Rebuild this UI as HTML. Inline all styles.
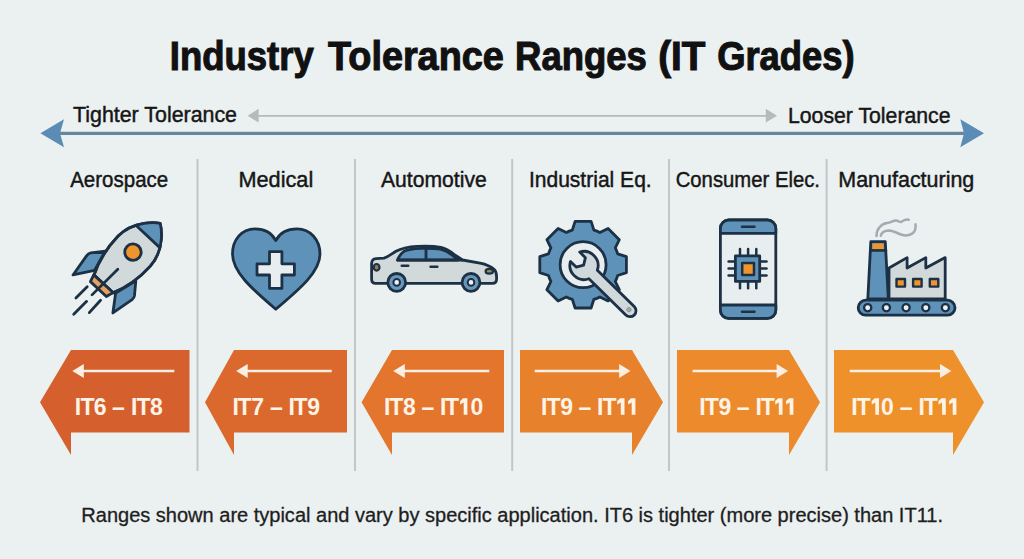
<!DOCTYPE html>
<html><head><meta charset="utf-8">
<style>
html,body{margin:0;padding:0;background:#ebf0f1;}
body{width:1024px;height:559px;overflow:hidden;}
svg{display:block;}
text{font-family:"Liberation Sans",sans-serif;}
</style></head>
<body>
<svg width="1024" height="559" viewBox="0 0 1024 559">
<rect width="1024" height="559" fill="#ebf0f1"/>

<!-- Title -->
<g font-size="40" font-weight="bold" fill="#111" stroke="#111" stroke-width="1.1">
<text x="169.8" y="70" textLength="143.9" lengthAdjust="spacingAndGlyphs">Industry</text>
<text x="328.0" y="70" textLength="175.8" lengthAdjust="spacingAndGlyphs">Tolerance</text>
<text x="515.1" y="70" textLength="131.8" lengthAdjust="spacingAndGlyphs">Ranges</text>
<text x="658.2" y="70" textLength="47.2" lengthAdjust="spacingAndGlyphs">(IT</text>
<text x="717.2" y="70" textLength="137.4" lengthAdjust="spacingAndGlyphs">Grades)</text>
</g>

<!-- Top arrows -->
<g fill="#161616" stroke="#161616" stroke-width="0.45" font-size="22">
<text x="73" y="122" textLength="164" lengthAdjust="spacingAndGlyphs">Tighter Tolerance</text>
<text x="788" y="122.5" textLength="162.5" lengthAdjust="spacingAndGlyphs">Looser Tolerance</text>
</g>
<line x1="257" y1="115.8" x2="767" y2="115.8" stroke="#b5babd" stroke-width="1.8"/>
<polygon points="247.6,115.8 258.6,108.8 258.6,122.6" fill="#b5babd"/>
<polygon points="777,115.8 765.8,108.8 765.8,122.6" fill="#b5babd"/>
<line x1="60" y1="133.4" x2="964" y2="133.4" stroke="#64879e" stroke-width="3.3"/>
<polygon points="40.4,133.2 64,119.2 60,133.2 64,147.3" fill="#5b8cb6"/>
<polygon points="984,133.2 960.3,119.2 964,133.2 960.3,147.3" fill="#5b8cb6"/>

<!-- dividers -->
<g stroke="#c2c6c8" stroke-width="2">
<line x1="197.5" y1="159" x2="197.5" y2="471"/>
<line x1="355" y1="159" x2="355" y2="471"/>
<line x1="512.2" y1="159" x2="512.2" y2="471"/>
<line x1="669" y1="159" x2="669" y2="471"/>
<line x1="826.6" y1="159" x2="826.6" y2="471"/>
</g>

<!-- labels -->
<g font-size="22" fill="#161616" stroke="#161616" stroke-width="0.45">
<text x="70.2" y="186.7" textLength="98" lengthAdjust="spacingAndGlyphs">Aerospace</text>
<text x="238.5" y="186.7" textLength="74.7" lengthAdjust="spacingAndGlyphs">Medical</text>
<text x="381" y="186.7" textLength="105.7" lengthAdjust="spacingAndGlyphs">Automotive</text>
<text x="528.9" y="186.7" textLength="122.8" lengthAdjust="spacingAndGlyphs">Industrial Eq.</text>
<text x="675.7" y="186.7" textLength="144.3" lengthAdjust="spacingAndGlyphs">Consumer Elec.</text>
<text x="838.3" y="186.7" textLength="136" lengthAdjust="spacingAndGlyphs">Manufacturing</text>
</g>

<!-- ROCKET -->
<defs><clipPath id="rb"><path d="M0,-43 C2.5,-41.5 21.5,-28 22,-5 C22.3,12 18.5,28 13,40 L-13,40 C-18.5,28 -22.3,12 -22,-5 C-21.5,-28 -2.5,-41.5 0,-43 Z"/></clipPath></defs>
<g transform="translate(130.8,254.75) rotate(43)" stroke="#1c3145" stroke-width="2.8" stroke-linejoin="round" stroke-linecap="round">
  <path d="M-21,14.8 L-30.5,26 Q-32,28 -31.6,31 L-28.5,54.2 L-15.9,36.2 Z" fill="#5f92b8"/>
  <path d="M21.4,15.6 L30.6,27.4 Q32,29.4 31.6,32 L26.6,54.8 L15,38.3 Z" fill="#5f92b8"/>
  <path d="M0,-43 C2.5,-41.5 21.5,-28 22,-5 C22.3,12 18.5,28 13,40 L-13,40 C-18.5,28 -22.3,12 -22,-5 C-21.5,-28 -2.5,-41.5 0,-43 Z" fill="#d1d9db"/>
  <rect x="-25" y="-46" width="50" height="21" fill="#5f92b8" stroke="none" clip-path="url(#rb)"/>
  <path d="M0,-43 C2.5,-41.5 21.5,-28 22,-5 C22.3,12 18.5,28 13,40 L-13,40 C-18.5,28 -22.3,12 -22,-5 C-21.5,-28 -2.5,-41.5 0,-43 Z" fill="none"/>
  <line x1="-16" y1="-25" x2="16" y2="-25" clip-path="url(#rb)"/>
  <circle cx="-0.2" cy="-3.4" r="8.2" fill="#f0942c"/>
  <path d="M-13.4,40 L12.8,39.8 L10.6,47.2 L-11.2,47.2 Z" fill="#e6a05e"/>
  <line x1="0.3" y1="19.4" x2="-1" y2="55.8"/>
  <line x1="-10" y1="53.2" x2="-10.6" y2="69.1"/>
  <line x1="-0.5" y1="64.2" x2="-1.2" y2="82.4"/>
  <line x1="8.9" y1="53.9" x2="9.1" y2="70.6"/>
</g>

<!-- HEART -->
<g stroke="#1c3145" stroke-width="2.8" stroke-linejoin="round">
  <path d="M275.8,240.6 C271,231.5 263.5,228.9 255,228.9 C241.5,228.9 232.5,240 232.5,254 C232.5,272 252,289 275.8,309.2 C299.6,289 320,272 320,254 C320,240 310.5,228.9 297,228.9 C288.5,228.9 280.6,231.5 275.8,240.6 Z" fill="#5f92b8"/>
  <path d="M269.5,251.6 H281.9 V263.8 H294.4 V275 H281.9 V288.4 H269.5 V275 H257 V263.8 H269.5 Z" fill="#e8eef0"/>
</g>

<!-- CAR -->
<g stroke="#1c3145" stroke-width="2.8" stroke-linejoin="round" stroke-linecap="round">
  <path d="M371.6,263.5 Q371.8,258.9 376,258.6 L384,258.1 C389,256.5 392,253.5 396,251.2 C401,248.4 408,246.8 417,246.3 C426,245.9 435,246.2 441,247.3 C446,248.3 450,251 454,254.3 L462.5,260 L480,263.2 C486,264.3 491,266.5 494.5,269.8 C496,271.5 496.6,274 496.6,277 L496.5,280 Q496.3,283.4 492.5,283.4 L375.5,283.4 Q371.6,283.4 371.6,279 Z" fill="#d1d9db"/>
  <path d="M397.5,260 C399,256.5 401,253.3 404,251.3 C408,249.3 414,248.6 421,248.3 C429,248.1 436,248.4 440.5,249.2 C445,250.2 449,252.5 452.5,255.3 L458,260 Z" fill="#5f92b8"/>
  <line x1="397.5" y1="260.2" x2="462.5" y2="260.2"/>
  <line x1="426" y1="247.5" x2="426" y2="259.5"/>
  <line x1="401.8" y1="265.7" x2="408.2" y2="265.7" stroke-width="2.6"/>
  <line x1="430.6" y1="266.8" x2="437.3" y2="266.8" stroke-width="2.6"/>
  <ellipse cx="376.6" cy="267.3" rx="2.9" ry="3.3" fill="#9b7c4e" stroke-width="2.2"/>
  <ellipse cx="489.3" cy="271.2" rx="3.7" ry="2.4" fill="#a58a55" stroke-width="2.2"/>
  <circle cx="396.7" cy="282.4" r="8.9" fill="#6a98bd"/>
  <circle cx="396.7" cy="282.4" r="3.3" fill="#eef1f4" stroke-width="2"/>
  <circle cx="471" cy="282.4" r="8.9" fill="#6a98bd"/>
  <circle cx="471" cy="282.4" r="3.3" fill="#eef1f4" stroke-width="2"/>
</g>

<!-- GEAR + WRENCH -->
<g stroke="#1c3145" stroke-width="2.8" stroke-linejoin="round">
  <path d="M572.3 230.1 L575.1 221.4 L591.1 221.4 L593.9 230.1 A36.3 36.3 0 0 1 599.9 232.5 L599.9 232.5 L608.1 228.5 L619.3 239.7 L615.3 247.9 A36.3 36.3 0 0 1 617.7 253.9 L617.7 253.9 L626.4 256.7 L626.4 272.7 L617.7 275.5 A36.3 36.3 0 0 1 615.3 281.5 L615.3 281.5 L619.3 289.7 L608.1 300.9 L599.9 296.9 A36.3 36.3 0 0 1 593.9 299.3 L593.9 299.3 L591.1 308.0 L575.1 308.0 L572.3 299.3 A36.3 36.3 0 0 1 566.3 296.9 L566.3 296.9 L558.1 300.9 L546.9 289.7 L550.9 281.5 A36.3 36.3 0 0 1 548.5 275.5 L548.5 275.5 L539.8 272.7 L539.8 256.7 L548.5 253.9 A36.3 36.3 0 0 1 550.9 247.9 L550.9 247.9 L546.9 239.7 L558.1 228.5 L566.3 232.5 A36.3 36.3 0 0 1 572.3 230.1 Z" fill="#5f92b8"/>
  <circle cx="583.1" cy="264.7" r="23" fill="#e8eef0"/>
  <g transform="translate(584,265.5) rotate(44.5)">
    <path d="M-12.5,-6.6 L-4.5,-6.6 L-0.5,0 L-4.5,6.6 L-12.5,6.6 A14.2 14.2 0 0 0 12.8,6 L64.5,6 A6 6 0 0 0 64.5,-6 L12.8,-6 A14.2 14.2 0 0 0 -12.5,-6.6 Z" fill="#d1d8db"/>
    <circle cx="63" cy="0" r="2.2" fill="#a0a8af" stroke="#8b939a" stroke-width="0.9"/>
  </g>
</g>

<!-- PHONE -->
<g stroke="#1c3145" stroke-width="2.8" stroke-linejoin="round" stroke-linecap="round">
  <rect x="720.4" y="220" width="55.4" height="98.4" rx="8.5" fill="#e8eef0"/>
  <path d="M720.4,233.3 V228.5 A8.5 8.5 0 0 1 728.9,220 H767.3 A8.5 8.5 0 0 1 775.8,228.5 V233.3 Z" fill="#5f92b8"/>
  <path d="M720.4,305 V309.9 A8.5 8.5 0 0 0 728.9,318.4 H767.3 A8.5 8.5 0 0 0 775.8,309.9 V305 Z" fill="#5f92b8"/>
  <line x1="742" y1="226.7" x2="754.5" y2="226.7" stroke-width="2.5"/>
  <line x1="742" y1="311.7" x2="754.5" y2="311.7" stroke-width="2.5"/>
  <g stroke-width="2.5">
  <line x1="740" y1="249" x2="740" y2="255"/><line x1="748.1" y1="249" x2="748.1" y2="255"/><line x1="756.3" y1="249" x2="756.3" y2="255"/>
  <line x1="740" y1="282" x2="740" y2="288.3"/><line x1="748.1" y1="282" x2="748.1" y2="288.3"/><line x1="756.3" y1="282" x2="756.3" y2="288.3"/>
  <line x1="728.6" y1="261.6" x2="734.5" y2="261.6"/><line x1="728.6" y1="268.6" x2="734.5" y2="268.6"/><line x1="728.6" y1="275.6" x2="734.5" y2="275.6"/>
  <line x1="760.6" y1="261.6" x2="766.5" y2="261.6"/><line x1="760.6" y1="268.6" x2="766.5" y2="268.6"/><line x1="760.6" y1="275.6" x2="766.5" y2="275.6"/>
  </g>
  <rect x="735.4" y="255.9" width="24.3" height="25.5" fill="#5f92b8"/>
  <rect x="742.2" y="263" width="11.8" height="12" fill="#f0942c" stroke-width="2.5"/>
</g>

<!-- FACTORY -->
<g stroke="#1c3145" stroke-width="2.8" stroke-linejoin="round" stroke-linecap="round">
  <path d="M876.5,236 C876.5,229 881,224 887,223 C891,222.5 893,220.5 896,220.5 C898.5,220.5 899.5,222.5 901,222 C903,221 905,219 908.7,219.7" fill="none" stroke="#a3abb1" stroke-width="2.5"/>
  <path d="M880.8,235.8 C881.5,232 885,230.5 889,230.4 C893,230.5 897,233 901,234.5 C905,235.8 910,235.5 913,233 C915.5,230.5 915.8,227 915.5,224.3" fill="none" stroke="#a3abb1" stroke-width="2.5"/>
  <path d="M889,268 L907.1,257.6 L907.1,268 L925.8,257.6 L925.8,268 L945.2,257.6 L945.2,299 L889,299 Z" fill="#d1d9db"/>
  <path d="M870.8,241.7 L885.3,241.7 L888.3,299 L867.8,299 Z" fill="#5f92b8"/>
  <line x1="871.2" y1="250.3" x2="885.7" y2="250.3"/>
  <rect x="872.6" y="243.6" width="11" height="5.5" fill="#f0942c" stroke="none"/>
  <rect x="896.5" y="279" width="8.5" height="7.6" fill="#f0942c" stroke-width="2.4"/>
  <rect x="913.1" y="279" width="8.5" height="7.6" fill="#f0942c" stroke-width="2.4"/>
  <rect x="929.8" y="279" width="8.5" height="7.6" fill="#f0942c" stroke-width="2.4"/>
  <rect x="858.2" y="300.2" width="96.8" height="15" rx="7.5" fill="#5f92b8"/>
  <g fill="#eef1f4" stroke-width="2.3">
  <circle cx="867.7" cy="307.7" r="3.6"/><circle cx="886.4" cy="307.7" r="3.6"/><circle cx="906.1" cy="307.7" r="3.6"/><circle cx="925.8" cy="307.7" r="3.6"/><circle cx="945.4" cy="307.7" r="3.6"/>
  </g>
</g>

<!-- badges -->
<g>
<polygon points="71,350 189.5,350 189.5,432.6 71,432.6 71,455 40,402.3" fill="#d6602d"/>
<polygon points="234,350 347,350 347,432.6 234,432.6 234,455 205,402.3" fill="#db692e"/>
<polygon points="392,350 504,350 504,432.6 392,432.6 392,455 361.6,402.3" fill="#e3752c"/>
<polygon points="520,350 632,350 663,402.3 632,455 632,432.6 520,432.6" fill="#e8812c"/>
<polygon points="677,350 789,350 820,402.3 789,455 789,432.6 677,432.6" fill="#ec8a2c"/>
<polygon points="834,350 953,350 984,402.3 953,455 953,432.6 834,432.6" fill="#ee912b"/>
</g>
<g stroke="#fbeee2" stroke-width="2.6" fill="#fbeee2">
<line x1="80" y1="371" x2="174.3" y2="371"/><polygon points="72.3,371 83.8,364 83.8,378" stroke="none"/>
<line x1="244" y1="371" x2="331.7" y2="371"/><polygon points="236.2,371 247.7,364 247.7,378" stroke="none"/>
<line x1="401" y1="371" x2="489.3" y2="371"/><polygon points="393.2,371 404.8,364 404.8,378" stroke="none"/>
<line x1="534.7" y1="371" x2="622" y2="371"/><polygon points="630.5,371 619.1,364 619.1,378" stroke="none"/>
<line x1="692.6" y1="371" x2="780" y2="371"/><polygon points="788.1,371 776.6,364 776.6,378" stroke="none"/>
<line x1="849.7" y1="371" x2="943" y2="371"/><polygon points="951.4,371 940,364 940,378" stroke="none"/>
</g>
<g font-size="23" font-weight="bold" fill="#fdf3e6">
<text x="74.8 80.4 93.8 112.1 131.0 136.4 150.0" y="414.6">IT6–IT8</text>
<text x="232.4 237.6 251.2 270.1 288.6 293.4 307.2" y="414.6">IT7–IT9</text>
<text x="384.0 389.3 403.1 421.6 439.9 445.0 457.9 470.4" y="414.6">IT8–IT 0</text>
<text x="541.1 546.4 560.3 578.4 597.1 602.4 615.2 625.8" y="414.6">IT9–IT  </text>
<text x="699.3 704.7 718.5 736.7 755.6 760.7 773.2 783.8" y="414.6">IT9–IT  </text>
<text x="851.3 856.6 869.5 880.9 899.8 918.6 923.7 936.4 946.7" y="414.6">IT 0–IT  </text>
<path stroke="none" d="M463.1,398.3 L467.4,398.3 L467.4,414.8 L463.7,414.8 L463.7,402.6 L460.1,404.6 L460.1,401.0 Z M620.2,398.3 L624.5,398.3 L624.5,414.8 L620.8,414.8 L620.8,402.6 L617.2,404.6 L617.2,401.0 Z M631.1,398.3 L635.4,398.3 L635.4,414.8 L631.7,414.8 L631.7,402.6 L628.1,404.6 L628.1,401.0 Z M778.2,398.3 L782.5,398.3 L782.5,414.8 L778.8,414.8 L778.8,402.6 L775.2,404.6 L775.2,401.0 Z M789.1,398.3 L793.4,398.3 L793.4,414.8 L789.7,414.8 L789.7,402.6 L786.1,404.6 L786.1,401.0 Z M874.7,398.3 L879.0,398.3 L879.0,414.8 L875.3,414.8 L875.3,402.6 L871.7,404.6 L871.7,401.0 Z M941.5,398.3 L945.8,398.3 L945.8,414.8 L942.1,414.8 L942.1,402.6 L938.5,404.6 L938.5,401.0 Z M952.1,398.3 L956.4,398.3 L956.4,414.8 L952.7,414.8 L952.7,402.6 L949.1,404.6 L949.1,401.0 Z"/>
</g>

<!-- footer -->
<text x="81.3" y="522" font-size="20" fill="#1e1e1e" stroke="#1e1e1e" stroke-width="0.3" textLength="861.7" lengthAdjust="spacingAndGlyphs">Ranges shown are typical and vary by specific application. IT6 is tighter (more precise) than IT11.</text>
</svg>
</body></html>
